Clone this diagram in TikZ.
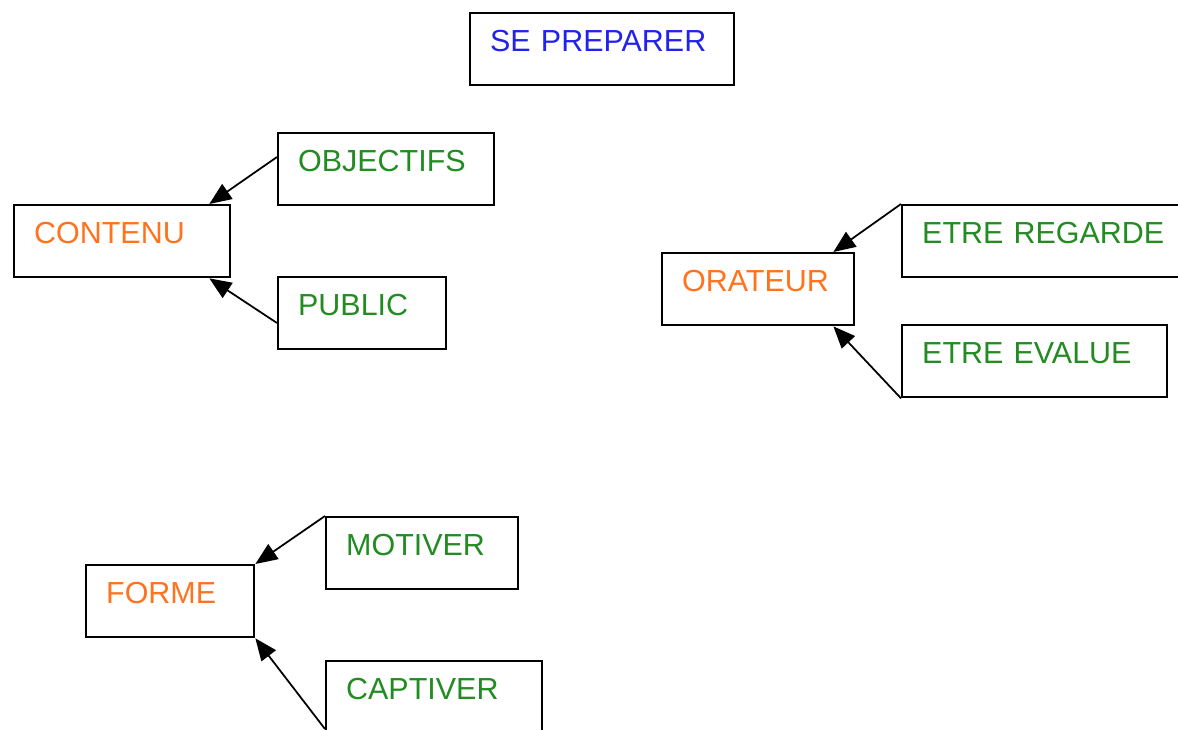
\documentclass[tikz,border=0pt]{standalone}
\usepackage{fontspec}
\setmainfont{Liberation Sans}
\usetikzlibrary{arrows.meta,calc}
\definecolor{bleu}{RGB}{34,34,238}
\definecolor{orange}{RGB}{255,115,30}
\definecolor{vert}{RGB}{34,139,34}
\begin{document}
\begin{tikzpicture}[x=0.03cm, y=-0.03cm,
    boite/.style={draw, line width=2pt, anchor=north west, align=left,
        inner xsep=0.6cm, inner ysep=0pt, text height=1.14cm, text depth=1.02cm,
        font=\fontsize{26}{30}\selectfont},
    fleche/.style={line width=1.5pt, -{Triangle[length=0.66cm, width=0.54cm]}}]
    \useasboundingbox (0,0) rectangle (1178,729);
    % titre
    \node[boite, text=bleu, text width=6.72cm] (prep) at (469,12) {SE PREPARER};
    % contenu
    \node[boite, text=orange, text width=5.28cm] (contenu) at (13,204) {CONTENU};
    \node[boite, text=vert, text width=5.28cm] (obj) at (277,132) {OBJECTIFS};
    \node[boite, text=vert, text width=3.84cm] (public) at (277,276) {PUBLIC};
    \draw[fleche] ($(obj.north west)+(0,25)$) -- ($(contenu.north east)+(-22,0)$);
    \draw[fleche] ($(public.north west)+(0,47)$) -- ($(contenu.south east)+(-22,0)$);
    % orateur
    \node[boite, text=orange, text width=4.56cm] (orateur) at (661,252) {ORATEUR};
    \node[boite, text=vert, text width=7.8cm] (regarde) at (901,204) {ETRE REGARDE};
    \node[boite, text=vert, text width=6.75cm] (evalue) at (901,324) {ETRE EVALUE};
    \draw[fleche] (regarde.north west) -- ($(orateur.north east)+(-22,0)$);
    \draw[fleche] (evalue.south west) -- ($(orateur.south east)+(-22,0)$);
    % forme
    \node[boite, text=orange, text width=3.84cm] (forme) at (85,564) {FORME};
    \node[boite, text=vert, text width=4.56cm] (motiver) at (325,516) {MOTIVER};
    \node[boite, text=vert, text width=5.28cm] (captiver) at (325,660) {CAPTIVER};
    \draw[fleche] (motiver.north west) -- (forme.north east);
    \draw[fleche] ($(captiver.north west)+(0,69)$) -- (forme.south east);
\end{tikzpicture}
\end{document}
